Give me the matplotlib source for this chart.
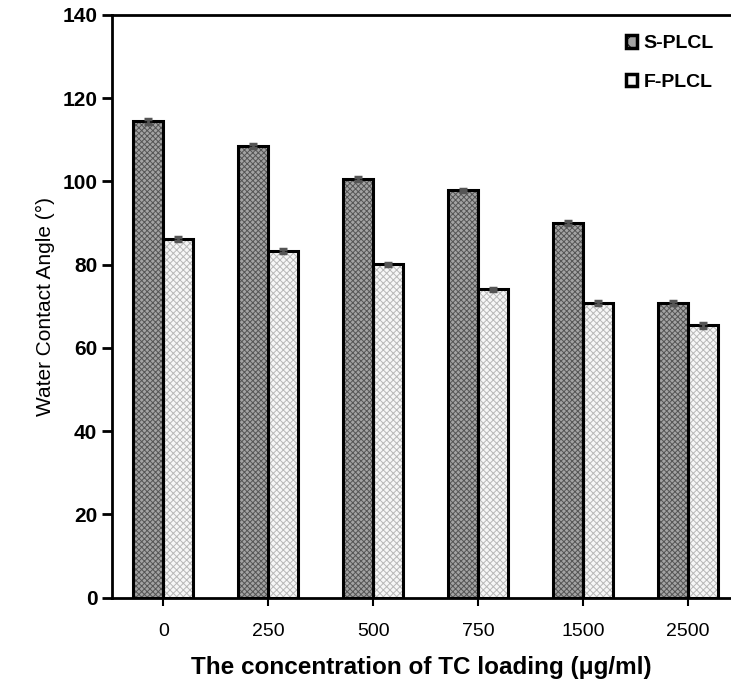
import matplotlib.pyplot as plt
from matplotlib.patches import Patch
import numpy as np

plt.rcParams.update({
    "font.family": ["Liberation Sans", "DejaVu Sans"],
    "hatch.linewidth": 0.7,
})

concentrations = ["0", "250", "500", "750", "1500", "2500"]
s_plcl = [114.5, 108.5, 100.6, 97.9, 90.0, 70.8]
f_plcl = [86.2, 83.2, 80.1, 74.1, 70.8, 65.4]
s_err = [0.6, 0.5, 0.5, 0.4, 0.4, 0.5]
f_err = [0.5, 0.5, 0.4, 0.4, 0.4, 0.5]

fig = plt.figure(figsize=(7.31, 6.8), dpi=100)
ax = fig.add_axes([0.153, 0.121, 0.847, 0.857])

x = np.arange(len(concentrations))
w = 0.286

# fill layer with hatch in a gray tone
ax.bar(x - w / 2, s_plcl, w, color="#a3a3a3", edgecolor="#555555",
       linewidth=0, hatch="xxxxxx")
ax.bar(x + w / 2, f_plcl, w, color="#f7f7f7", edgecolor="#b8b8b8",
       linewidth=0, hatch="xxxxx")
# black outline layer + error bars
err_kw = dict(ecolor="#555555", elinewidth=2, capsize=3, capthick=2.5)
ax.bar(x - w / 2, s_plcl, w, yerr=s_err, fill=False, edgecolor="black",
       linewidth=2.2, error_kw=err_kw)
ax.bar(x + w / 2, f_plcl, w, yerr=f_err, fill=False, edgecolor="black",
       linewidth=2.2, error_kw=err_kw)

ax.set_xlim(-0.49, 5.41)
ax.set_ylim(0, 140)
ax.set_yticks(range(0, 141, 20))
ax.set_xticks(x)
ax.set_xticklabels(concentrations, fontsize=14)
for t in ax.get_yticklabels():
    t.set_fontweight("bold")
ax.tick_params(axis="y", labelsize=15, width=2, length=7, direction="out")
ax.tick_params(axis="x", width=1.5, length=6, direction="out", pad=12)

for s in ["left", "bottom", "top"]:
    ax.spines[s].set_linewidth(2)
ax.spines["right"].set_visible(False)

ax.set_ylabel("Water Contact Angle (°)", fontsize=15, labelpad=5)
ax.set_xlabel("The concentration of TC loading (μg/ml)", fontsize=17.5,
              fontweight="bold", labelpad=12)

handles = [
    Patch(facecolor="#a3a3a3", edgecolor="black", hatch="xx", linewidth=2.5),
    Patch(facecolor="#f7f7f7", edgecolor="black", hatch="x", linewidth=2.5),
]
ax.legend(handles, ["S-PLCL", "F-PLCL"], loc="upper right", frameon=False,
          prop={"size": 14, "weight": "bold"},
          handlelength=0.6, handleheight=0.6, handletextpad=0.3,
          labelspacing=1.1, bbox_to_anchor=(1.0, 0.995))

fig.savefig("out.png", dpi=100)
